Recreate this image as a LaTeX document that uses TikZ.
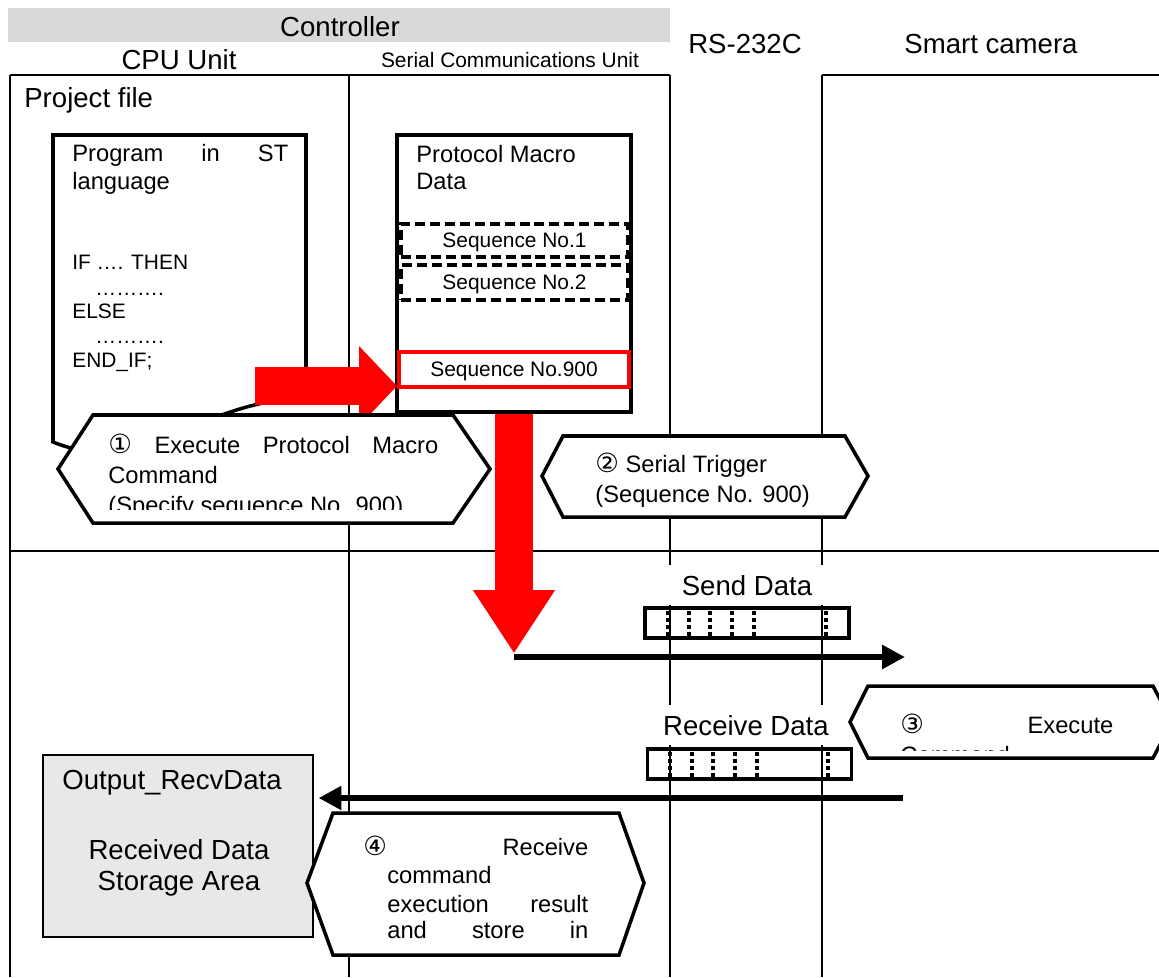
\documentclass[tikz,border=0pt]{standalone}
\usepackage{fontspec}
\setmainfont{Liberation Sans}
\newfontfamily\circfont{DejaVu Sans}
\usetikzlibrary{arrows,arrows.meta}

\newcommand{\bigtxt}{\fontsize{15.7}{19}\selectfont}
\newcommand{\midtxt}{\fontsize{13.5}{16}\selectfont}
\newcommand{\smalltxt}{\fontsize{11.9}{14}\selectfont}
\newcommand{\cnum}[1]{{\circfont\fontsize{15}{16}\selectfont #1}}

\definecolor{barGrey}{HTML}{D9D9D9}
\definecolor{storeGrey}{HTML}{E8E8E8}

\begin{document}
\begin{tikzpicture}[x=0.02cm,y=-0.02cm,
                    grid/.style={line width=1.1pt},
                    txt/.style={inner sep=0pt,anchor=base west},
                    ctxt/.style={inner sep=0pt,anchor=base},
                    docbox/.style={draw,line width=2pt,fill=white},
                    seqbox/.style={draw,dash pattern=on 5.7pt off 2.8pt,line width=2.3pt,
                                   minimum width=4.54cm,inner sep=0pt,text depth=0pt,font=\smalltxt},
                    callout/.style={draw,line width=2pt,fill=white,line join=miter},
                    bigarrow/.style={draw=red,line width=21.5pt},
                    dataarrow/.style={line width=3.4pt,-{Triangle[length=13pt,width=13pt]}},
                    databuf/.style={draw,line width=2pt,minimum width=4.08cm,minimum height=0.6cm,inner sep=0pt},
                    bitline/.style={line width=2.1pt,dash pattern=on 2.3pt off 1.7pt},
                    datalbl/.style={font=\bigtxt,fill=white,minimum width=3.2cm,minimum height=0.8cm,
                                    text depth=0pt,inner sep=0pt}]

  \useasboundingbox (0,0) rectangle (1159,977);

  % lanes
  \draw[grid] (10,75) -- (670,75) (822,75) -- (1159,75);
  \draw[grid] (10,551) -- (1159,551);
  \foreach \x in {10,349,670,822}
    \draw[grid] (\x,75) -- (\x,977);

  \fill[barGrey] (8,8) rectangle (670,42);
  \node[ctxt,font=\bigtxt]   (ctrl) at (340,36) {Controller};
  \node[ctxt,font=\bigtxt]   (cpu)  at (179,69) {CPU Unit};
  \node[ctxt,font=\smalltxt] (scu)  at (510,67) {Serial Communications Unit};
  \node[ctxt,font=\bigtxt]   (rs)   at (745,53) {RS-232C};
  \node[ctxt,font=\bigtxt]   (cam)  at (991,53) {Smart camera};
  \node[txt,font=\bigtxt]    (proj) at (24,107) {Project file};

  % ST program
  \draw[docbox] (53,135) -- (306,135) -- (306,398)
        .. controls (200,400) and (140,478) .. (53,442) -- cycle;
  \node[txt,font=\midtxt]   (prg)  at (72,161) {\makebox[4.32cm][s]{Program in ST}};
  \node[txt,font=\midtxt]   (lang) at (72,189) {language};
  \node[txt,font=\smalltxt] (cif)  at (72,269) {IF …. THEN};
  \node[txt,font=\smalltxt] (cd1)  at (95,295) {……….};
  \node[txt,font=\smalltxt] (cel)  at (72,318) {ELSE};
  \node[txt,font=\smalltxt] (cd2)  at (95,343) {……….};
  \node[txt,font=\smalltxt] (cend) at (72,367) {END\_IF;};

  % protocol macro data
  \node[draw,line width=2pt,fill=white,minimum width=4.68cm,minimum height=5.54cm,inner sep=0pt]
        (proto) at (514,273.5) {};
  \node[txt,font=\midtxt] (pmd)  at (416,162) {Protocol Macro};
  \node[txt,font=\midtxt] (pmd2) at (416,189) {Data};
  \node[seqbox,minimum height=0.66cm] (seq1) at (514.5,240.5) {Sequence No.1};
  \node[seqbox,minimum height=0.7cm]  (seq2) at (514.5,282.5) {Sequence No.2};
  \node[draw=red,line width=2.3pt,minimum width=4.6cm,minimum height=0.7cm,inner sep=0pt,
        text depth=0pt,font=\smalltxt] (seq900) at (514,369.5) {Sequence No.900};

  \coordinate (push)    at (255,386);
  \coordinate (txstart) at (514,657);
  \coordinate (txend)   at (905,657);
  \draw[bigarrow,-{Triangle[length=21.5pt,width=44pt]}] (push) -- (push -| seq900.west);
  \draw[bigarrow,shorten >=2pt,-{Triangle[length=36pt,width=44pt]}] (proto.south) -- (txstart);

  % (1)
  \draw[callout] (58,469) -- (93,415) -- (453,415) -- (490,469) -- (453,523) -- (93,523) -- cycle;
  \begin{scope}
    \clip (93,415) rectangle (453,509);
    \node[txt,font=\midtxt] (c1a) at (108,453) {\makebox[6.6cm][s]{\cnum{①} Execute Protocol Macro}};
    \node[txt,font=\midtxt] (c1b) at (108,483) {Command};
    \node[txt,font=\midtxt] (c1c) at (108,513) {(Specify sequence No. 900)};
  \end{scope}

  % (2)
  \draw[callout] (542,476) -- (563,436) -- (845,436) -- (868,476) -- (845,517) -- (563,517) -- cycle;
  \node[txt,font=\midtxt] (c2a) at (595,472) {\cnum{②} Serial Trigger};
  \node[txt,font=\midtxt] (c2b) at (595,502) {(Sequence No. 900)};

  % send / receive
  \node[datalbl] (sendlbl) at (747,585) {Send Data};
  \node[databuf] (sendbuf) at (747,623) {};
  \foreach \x in {668,689,710,732,754,826}
    \draw[bitline] (\x,611) -- (\x,636);
  \draw[dataarrow] (txstart) -- (txend);

  \node[datalbl] (recvlbl) at (746,725) {Receive Data};
  \node[databuf] (recvbuf) at (749.5,764) {};
  \foreach \x in {670,692,713,735,757,828}
    \draw[bitline] (\x,752) -- (\x,777);

  % (3)
  \draw[callout] (850,722) -- (868,686) -- (1153,686) -- (1172,722) -- (1153,758) -- (868,758) -- cycle;
  \begin{scope}
    \clip (868,686) rectangle (1153,750);
    \node[txt,font=\midtxt] (c3a) at (900,733) {\makebox[4.26cm][s]{\cnum{③} Execute}};
    \node[txt,font=\midtxt] (c3b) at (900,763) {Command};
  \end{scope}

  % storage
  \node[draw,line width=1.4pt,fill=storeGrey,minimum width=5.4cm,minimum height=3.64cm,inner sep=0pt]
        (store) at (178,846) {};
  \node[ctxt,font=\bigtxt] (st1) at (172,789) {Output\_RecvData};
  \node[ctxt,font=\bigtxt] (st2) at (179,859) {Received Data};
  \node[ctxt,font=\bigtxt] (st3) at (179,890) {Storage Area};

  \coordinate (rxstart) at (903,798);
  \draw[dataarrow,shorten >=2.5pt] (rxstart) -- (rxstart -| store.east);

  % (4)
  \draw[callout] (307,883) -- (333,813) -- (619,813) -- (644,883) -- (619,955) -- (333,955) -- cycle;
  \node[txt,font=\midtxt] (c4a) at (363,855) {\makebox[4.5cm][s]{\cnum{④} Receive}};
  \node[txt,font=\midtxt] (c4b) at (387,883) {command};
  \node[txt,font=\midtxt] (c4c) at (387,912) {\makebox[4.02cm][s]{execution result}};
  \node[txt,font=\midtxt] (c4d) at (387,938) {\makebox[4.02cm][s]{and store in}};

\end{tikzpicture}
\end{document}
